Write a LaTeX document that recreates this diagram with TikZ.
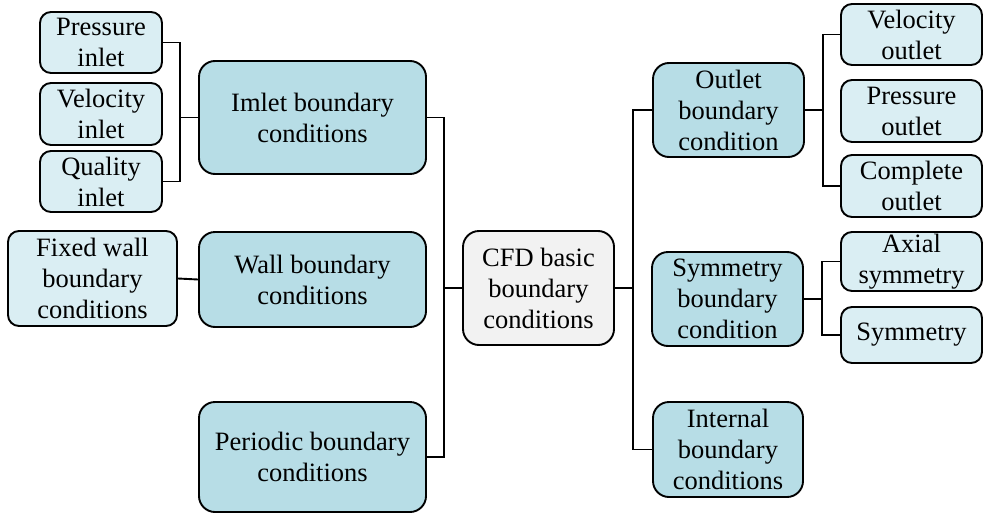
\documentclass[tikz,border=0pt]{standalone}
\usepackage{fontspec}
\setmainfont{Liberation Serif}
\definecolor{midblue}{RGB}{183,221,230}
\definecolor{leafblue}{RGB}{218,238,243}
\definecolor{rootgray}{RGB}{242,242,242}
\begin{document}
\begin{tikzpicture}[x=1pt,y=-1pt,
  base/.style={draw=black, line width=1.9pt, align=center, inner sep=0pt,
    font=\fontsize{26.5}{31}\selectfont},
  leaf/.style={base, fill=leafblue, rounded corners=11pt},
  mid/.style={base, fill=midblue, rounded corners=16pt},
  root/.style={base, fill=rootgray, rounded corners=16pt},
  link/.style={draw=black, line width=1.9pt}]
\useasboundingbox (0,0) rectangle (984,514);

% left leaves
\node[leaf, minimum width=122pt, minimum height=61pt] (pin) at (101,42.5) {Pressure\\inlet};
\node[leaf, minimum width=122pt, minimum height=62pt] (vin) at (101,114) {Velocity\\inlet};
\node[leaf, minimum width=122pt, minimum height=61pt] (qin) at (101,181.5) {Quality\\inlet};
\node[leaf, minimum width=169pt, minimum height=95pt] (fw) at (92.5,278.5) {Fixed wall\\boundary\\conditions};

% left branch boxes
\node[mid, minimum width=227pt, minimum height=113pt] (inl) at (312.5,117.5) {Imlet boundary\\conditions};
\node[mid, minimum width=227pt, minimum height=95pt] (wall) at (312.5,279.5) {Wall boundary\\conditions};
\node[mid, minimum width=227pt, minimum height=110pt] (per) at (312.5,457) {Periodic boundary\\conditions};

% root
\node[root, minimum width=151pt, minimum height=114pt] (cfd) at (538.5,288) {CFD basic\\boundary\\conditions};

% right branch boxes
\node[mid, minimum width=151pt, minimum height=94pt] (out) at (728.5,110) {Outlet\\boundary\\condition};
\node[mid, minimum width=151pt, minimum height=94pt] (sym) at (727.5,299) {Symmetry\\boundary\\condition};
\node[mid, minimum width=150pt, minimum height=95pt] (int) at (728,449.5) {Internal\\boundary\\conditions};

% right leaves
\node[leaf, minimum width=141pt, minimum height=61pt] (vo) at (911.5,34.5) {Velocity\\outlet};
\node[leaf, minimum width=141pt, minimum height=62pt] (po) at (911.5,111) {Pressure\\outlet};
\node[leaf, minimum width=141pt, minimum height=62pt] (co) at (911.5,186) {Complete\\outlet};
\node[leaf, minimum width=141pt, minimum height=59pt] (ax) at (911.5,261.5) {Axial\\symmetry};
\node[leaf, minimum width=141pt, minimum height=56pt] (sy) at (911.5,335) {Symmetry};

% junction points
\coordinate (jL) at (180,117.5);
\coordinate (jM) at (444,288);
\coordinate (jR) at (633,288);
\coordinate (jO) at (823,110);
\coordinate (jS) at (822,299);

% connectors
\draw[link] (pin.east) -| (jL) |- (qin.east);
\draw[link] (jL) -- (inl.west);
\draw[link] (fw.east) -- (wall.west);
\draw[link] (inl.east) -| (jM) |- (per.east);
\draw[link] (jM) -- (cfd.west);
\draw[link] (cfd.east) -- (jR);
\draw[link] (out.west) -| (jR) |- (int.west);
\draw[link] (out.east) -- (jO);
\draw[link] (vo.west) -| (jO) |- (co.west);
\draw[link] (sym.east) -- (jS);
\draw[link] (ax.west) -| (jS) |- (sy.west);
\end{tikzpicture}
\end{document}
